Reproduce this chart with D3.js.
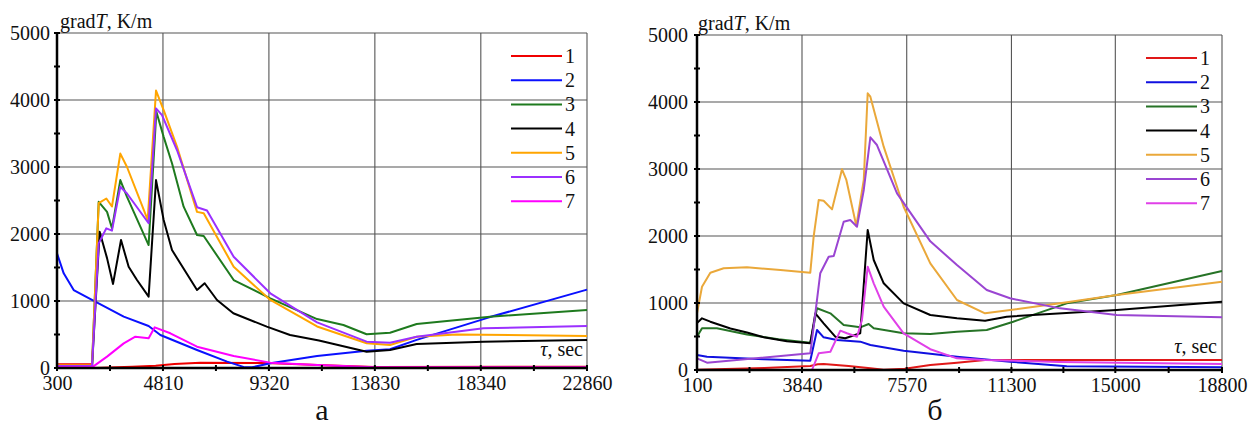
<!DOCTYPE html>
<html>
<head>
<meta charset="utf-8">
<script src="https://cdn.jsdelivr.net/npm/d3@7"></script>
<style>
  html, body { margin: 0; padding: 0; background: #fff; }
  svg { display: block; }
  svg text { font-family: "Liberation Serif", "Tinos", "Times New Roman", "DejaVu Serif", serif !important; fill: #111; }
</style>
</head>
<body>
<svg id="chart" width="1248" height="426"></svg>
<script>
// ---------- DATA ----------
const seriesNames = ["1", "2", "3", "4", "5", "6", "7"];
const yTicks = [0, 1000, 2000, 3000, 4000, 5000];

// Panel "а"
const aTicks = [300, 4810, 9320, 13830, 18340, 22860];
const a1 = [[300,55],[1790,55],[1850,0],[3500,20],[4500,35],[5300,60],[6400,80],[9200,75],[11400,45],[13830,15],[22860,20]];
const a2 = [[300,1712],[585,1413],[1010,1164],[1790,1015],[3140,766],[4200,627],[4700,492],[6260,269],[7540,95],[8300,10],[8600,10],[9380,70],[11370,179],[13480,258],[14475,280],[15610,420],[18730,760],[22860,1170]];
const a3 = [[300,20],[1790,20],[2075,2480],[2430,2330],[2640,2085],[2995,2805],[3280,2555],[4200,1835],[4530,3825],[4840,3450],[5195,3055],[5690,2408],[6260,1985],[6545,1970],[7820,1313],[9380,1040],[11370,730],[12490,642],[13480,503],[14475,527],[15610,657],[18730,766],[22860,866]];
const a4 = [[300,20],[1790,20],[2115,2035],[2430,1640],[2685,1255],[3025,1910],[3350,1510],[3705,1313],[4200,1065],[4515,2805],[4840,2210],[5195,1760],[6260,1165],[6585,1265],[7110,1015],[7805,817],[9230,617],[10220,492],[11450,410],[13480,243],[14475,269],[15610,358],[18450,393],[22860,418]];
const a5 = [[300,40],[1790,40],[2075,2460],[2400,2530],[2640,2410],[2995,3200],[3280,3000],[4160,2210],[4515,4140],[4840,3850],[5410,3300],[6260,2330],[6545,2310],[7820,1510],[9380,1015],[11370,620],[13480,370],[14475,343],[15610,467],[17315,500],[22860,478]];
const a6 = [[300,30],[1790,30],[2075,1860],[2400,2085],[2640,2050],[2995,2705],[3280,2605],[4200,2160],[4515,3875],[4770,3775],[5410,3250],[6260,2400],[6685,2350],[7820,1660],[9380,1115],[11370,680],[13480,393],[14475,378],[15610,467],[18450,593],[22860,627]];
const a7 = [[300,10],[1790,10],[2430,170],[3140,368],[3635,467],[4200,443],[4460,607],[5125,518],[6260,318],[7820,179],[9380,80],[11370,45],[13830,10],[22860,10]];

// Panel "б"
const bTicks = [100, 3840, 7570, 11300, 15000, 18800];
const b1 = [[100,5],[2500,30],[4135,60],[4400,85],[4610,90],[5500,60],[6275,25],[6750,5],[7500,20],[8410,75],[9360,110],[10360,149],[18800,149]];
const b2 = [[100,224],[456,199],[2475,159],[4135,139],[4375,597],[4610,488],[5085,448],[5915,423],[6275,373],[7460,288],[9360,199],[11250,124],[13270,55],[18800,40]];
const b3 = [[100,497],[278,622],[810,622],[1880,530],[3000,460],[4135,408],[4375,921],[4850,846],[5325,672],[5915,637],[6215,687],[6395,622],[7460,548],[8410,537],[9360,570],[10420,597],[11365,721],[13270,995],[15050,1119],[18800,1478]];
const b4 = [[100,700],[278,771],[575,721],[1290,620],[1880,560],[2475,490],[3300,430],[4135,398],[4315,846],[4610,697],[5025,497],[5380,473],[5915,548],[6180,2090],[6395,1642],[6750,1294],[7460,995],[8410,821],[9360,771],[10360,736],[11130,796],[15050,896],[18800,1020]];
const b5 = [[100,846],[278,1243],[575,1452],[1050,1518],[1880,1533],[3070,1493],[4135,1452],[4255,1990],[4435,2537],[4610,2527],[4910,2398],[5265,2995],[5420,2836],[5775,2149],[6040,2836],[6180,4130],[6275,4080],[6750,3333],[7460,2437],[8410,1592],[9360,1045],[10360,846],[13030,995],[15050,1119],[18800,1318]];
const b6 = [[100,174],[456,110],[4135,249],[4315,846],[4490,1443],[4790,1691],[4970,1701],[5325,2214],[5560,2239],[5800,2139],[6040,2687],[6275,3473],[6510,3358],[7225,2637],[8410,1920],[9360,1567],[10420,1194],[11250,1070],[13030,920],[15050,821],[18800,786]];
const b7 = [[100,0],[4195,0],[4435,249],[4850,273],[5205,587],[5440,548],[5800,497],[5975,746],[6180,1542],[6395,1294],[6750,945],[7460,548],[8410,310],[9360,174],[10360,150],[13000,120],[18800,90]];

// ---------- STYLE / LAYOUT ----------
const FONT = "'Liberation Serif', 'Tinos', 'Times New Roman', 'DejaVu Serif', serif";
const colorsA = ["#f00000", "#0a10ff", "#1e7a1e", "#000000", "#ffa500", "#9b30ff", "#ff00ff"];
const colorsB = ["#e01818", "#1010e0", "#267326", "#000000", "#eaa83a", "#9a45d2", "#e040e8"];

const panels = [
  { name: "а", left: 57, right: 587, top: 33, bottom: 368, xTicks: aTicks, series: [a1,a2,a3,a4,a5,a6,a7], colors: colorsA,
    yPad: 7, titleX: 60, titleY: 28, tauX: 583, tauY: 356, legX: 511, legY: 56, subX: 322, subY: 420 },
  { name: "б", left: 697, right: 1222, top: 35, bottom: 370, xTicks: bTicks, series: [b1,b2,b3,b4,b5,b6,b7], colors: colorsB,
    yPad: 9, titleX: 698, titleY: 30, tauX: 1217, tauY: 353, legX: 1146, legY: 58, subX: 935, subY: 420 }
];

const svg = d3.select("#chart");

panels.forEach(p => {
  const xDom = [p.xTicks[0], p.xTicks[p.xTicks.length - 1]];
  const x = d3.scaleLinear().domain(xDom).range([p.left, p.right]);
  const y = d3.scaleLinear().domain([0, 5000]).range([p.bottom, p.top]);
  const g = svg.append("g");

  // grid
  g.append("g").selectAll("line").data(yTicks.slice(1)).join("line")
    .attr("x1", p.left).attr("x2", p.right)
    .attr("y1", d => y(d)).attr("y2", d => y(d))
    .attr("stroke", "#555").attr("stroke-width", 1.1);
  g.append("g").selectAll("line").data(p.xTicks.slice(1)).join("line")
    .attr("x1", d => x(d)).attr("x2", d => x(d))
    .attr("y1", p.top).attr("y2", p.bottom)
    .attr("stroke", "#555").attr("stroke-width", 1.1);

  // series
  const line = d3.line().x(d => x(d[0])).y(d => y(d[1]));
  p.series.forEach((s, i) => {
    g.append("path").datum(s)
      .attr("d", line)
      .attr("fill", "none")
      .attr("stroke", p.colors[i])
      .attr("stroke-width", 2)
      .attr("stroke-linejoin", "round");
  });

  // axes lines
  g.append("line").attr("x1", p.left).attr("x2", p.left).attr("y1", p.top).attr("y2", p.bottom + 1)
    .attr("stroke", "#000").attr("stroke-width", 2.5);
  g.append("line").attr("x1", p.left - 1).attr("x2", p.right).attr("y1", p.bottom).attr("y2", p.bottom)
    .attr("stroke", "#000").attr("stroke-width", 2.5);

  // tick marks (major + minor), crossing the axis
  const yMarks = d3.range(0, 5001, 500);
  g.append("g").selectAll("line").data(yMarks).join("line")
    .attr("x1", p.left - 3).attr("x2", p.left + 3)
    .attr("y1", d => y(d)).attr("y2", d => y(d))
    .attr("stroke", "#000").attr("stroke-width", 2);
  const xMarks = [];
  for (let i = 0; i < p.xTicks.length; i++) {
    xMarks.push(p.xTicks[i]);
    if (i < p.xTicks.length - 1) xMarks.push((p.xTicks[i] + p.xTicks[i + 1]) / 2);
  }
  g.append("g").selectAll("line").data(xMarks).join("line")
    .attr("x1", d => x(d)).attr("x2", d => x(d))
    .attr("y1", p.bottom - 3).attr("y2", p.bottom + 3)
    .attr("stroke", "#000").attr("stroke-width", 2);

  // axis labels via d3 axes
  const yAxis = d3.axisLeft(y).tickValues(yTicks).tickSize(0).tickPadding(p.yPad).tickFormat(d3.format("d"));
  const ya = g.append("g").attr("transform", `translate(${p.left},0)`).call(yAxis)
    .attr("font-family", FONT).attr("font-size", 20);
  ya.select(".domain").remove();
  ya.selectAll("text").style("font-family", FONT).style("font-size", "20px").attr("fill", "#111");

  const xAxis = d3.axisBottom(x).tickValues(p.xTicks).tickSize(0).tickPadding(8).tickFormat(d3.format("d"));
  const xa = g.append("g").attr("transform", `translate(0,${p.bottom})`).call(xAxis)
    .attr("font-family", FONT).attr("font-size", 20);
  xa.select(".domain").remove();
  xa.selectAll("text").style("font-family", FONT).style("font-size", "20px").attr("fill", "#111");

  // y title
  const t = g.append("text").attr("x", p.titleX).attr("y", p.titleY)
    .style("font-family", FONT).style("font-size", "20px");
  t.append("tspan").text("grad");
  t.append("tspan").attr("font-style", "italic").text("T");
  t.append("tspan").text(", K/m");

  // x title
  const tau = g.append("text").attr("x", p.tauX).attr("y", p.tauY).attr("text-anchor", "end")
    .style("font-family", FONT).style("font-size", "20px");
  tau.append("tspan").attr("font-style", "italic").text("τ");
  tau.append("tspan").text(", sec");

  // legend
  const leg = g.append("g");
  seriesNames.forEach((n, i) => {
    const ly = p.legY + i * 24.2;
    leg.append("line").attr("x1", p.legX).attr("x2", p.legX + 51)
      .attr("y1", ly).attr("y2", ly)
      .attr("stroke", p.colors[i]).attr("stroke-width", 2);
    leg.append("text").attr("x", p.legX + 54).attr("y", ly + 7)
      .style("font-family", FONT).style("font-size", "20px").text(n);
  });

  // subtitle
  g.append("text").attr("x", p.subX).attr("y", p.subY).attr("text-anchor", "middle")
    .style("font-family", FONT).style("font-size", "30px").text(p.name);
});
</script>
</body>
</html>
